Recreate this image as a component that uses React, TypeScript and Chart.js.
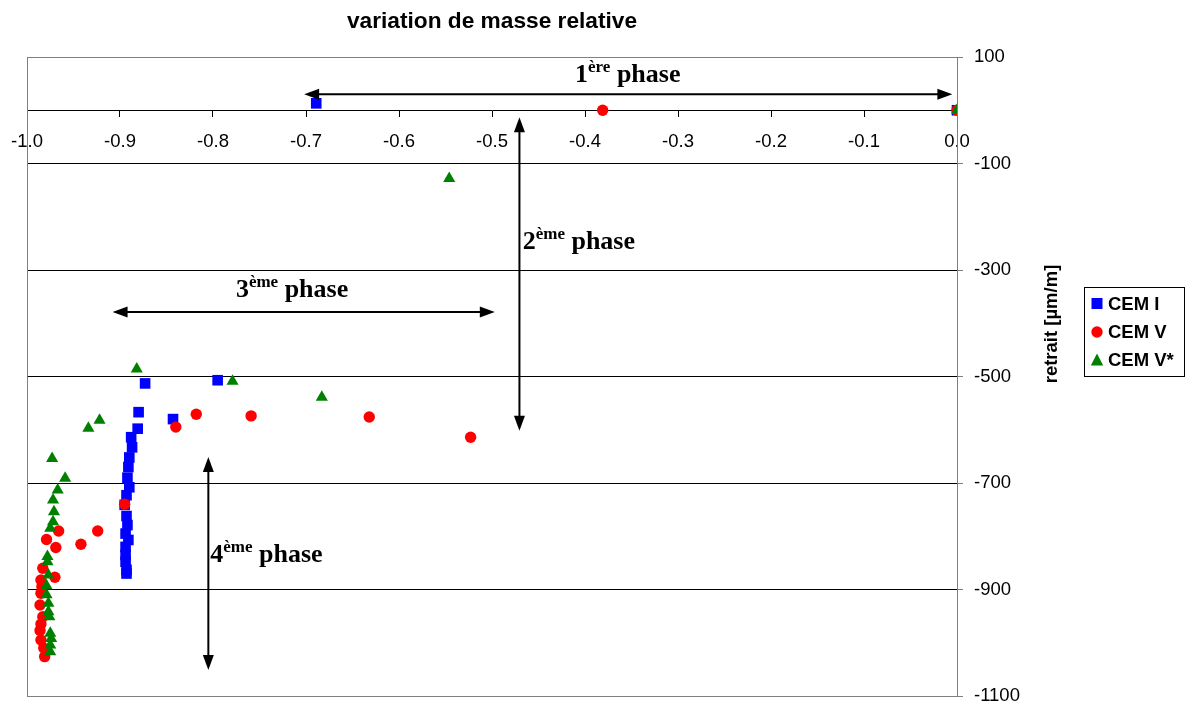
import React, { useEffect, useRef } from "react";
import { Chart, registerables } from "chart.js";

Chart.register(...registerables);

// ---- data ----
const seriesNames = ["CEM I", "CEM V", "CEM V*"];
const seriesColors = ["#0000FF", "#FF0000", "#008000"];

const cemIX = [0, -0.689, -0.795, -0.873, -0.843, -0.88, -0.881, -0.888, -0.887, -0.89, -0.891, -0.892, -0.89, -0.893, -0.895, -0.893, -0.892, -0.894, -0.891, -0.894, -0.894, -0.894, -0.893, -0.893];
const cemIY = [0, 13, -507, -513, -580, -567, -598, -614, -633, -652, -670, -690, -708, -723, -741, -762, -779, -795, -807, -820, -835, -848, -863, -870];

const cemVX = [0, -0.381, -0.523, -0.632, -0.759, -0.818, -0.84, -0.895, -0.924, -0.942, -0.966, -0.979, -0.969, -0.97, -0.983, -0.985, -0.984, -0.985, -0.986, -0.983, -0.985, -0.986, -0.985, -0.982, -0.981];
const cemVY = [0, 0, -614, -576, -574, -571, -595, -740, -790, -815, -790, -806, -821, -877, -860, -882, -895, -907, -929, -951, -965, -977, -995, -1010, -1026];

const cemVsX = [0, -0.546, -0.683, -0.779, -0.882, -0.922, -0.934, -0.973, -0.959, -0.967, -0.972, -0.971, -0.972, -0.975, -0.978, -0.978, -0.977, -0.979, -0.979, -0.977, -0.977, -0.976, -0.975, -0.974, -0.975, -0.975];
const cemVsY = [0, -128, -539, -509, -486, -582, -597, -654, -691, -713, -732, -754, -773, -785, -838, -848, -873, -893, -910, -926, -942, -951, -982, -992, -1004, -1017];

const xMin = -1.0;
const xMax = 0.0;
const xStep = 0.1;
const yMin = -1100;
const yMax = 100;
const yStep = 200;

const chartTitle = "variation de masse relative";
const yAxisTitle = "retrait [µm/m]";

// phase annotations (data units)
const phaseArrows = [
  { x1: -0.702, y1: 30, x2: -0.005, y2: 30 },
  { x1: -0.4705, y1: -13, x2: -0.4705, y2: -602 },
  { x1: -0.908, y1: -379, x2: -0.497, y2: -379 },
  { x1: -0.805, y1: -651, x2: -0.805, y2: -1051 },
];
const phaseNums = ["1", "2", "3", "4"];
const phaseSups = ["ère", "ème", "ème", "ème"];
const phaseTextX = [-0.354, -0.467, -0.715, -0.803];
const phaseTextY = [53, -261, -351, -848];
const phaseAlign = ["center", "left", "center", "left"];

const SANS = "'Liberation Sans', Arial, sans-serif";
const SERIF = "'Liberation Serif', 'Times New Roman', serif";

function zip(xs: number[], ys: number[]) {
  return xs.map((x, i) => ({ x, y: ys[i] }));
}

function drawArrowHead(ctx: CanvasRenderingContext2D, fx: number, fy: number, tx: number, ty: number) {
  const ang = Math.atan2(ty - fy, tx - fx);
  const len = 15;
  const hw = 5.5;
  ctx.beginPath();
  ctx.moveTo(tx, ty);
  ctx.lineTo(tx - len * Math.cos(ang) + hw * Math.sin(ang), ty - len * Math.sin(ang) - hw * Math.cos(ang));
  ctx.lineTo(tx - len * Math.cos(ang) - hw * Math.sin(ang), ty - len * Math.sin(ang) + hw * Math.cos(ang));
  ctx.closePath();
  ctx.fill();
}

const overlayPlugin = {
  id: "overlay",
  afterDatasetsDraw(chart: any) {
    const ctx: CanvasRenderingContext2D = chart.ctx;
    const xs = chart.scales.x;
    const ys = chart.scales.y;
    const area = chart.chartArea;
    ctx.save();

    // frame left border
    ctx.strokeStyle = "#808080";
    ctx.lineWidth = 1;
    ctx.beginPath();
    ctx.moveTo(Math.round(area.left) + 0.5, area.top);
    ctx.lineTo(Math.round(area.left) + 0.5, area.bottom);
    ctx.stroke();

    // arrows
    ctx.strokeStyle = "#000";
    ctx.fillStyle = "#000";
    ctx.lineWidth = 2;
    phaseArrows.forEach((a) => {
      const px1 = xs.getPixelForValue(a.x1);
      const py1 = ys.getPixelForValue(a.y1);
      const px2 = xs.getPixelForValue(a.x2);
      const py2 = ys.getPixelForValue(a.y2);
      const ang = Math.atan2(py2 - py1, px2 - px1);
      ctx.beginPath();
      ctx.moveTo(px1 + 10 * Math.cos(ang), py1 + 10 * Math.sin(ang));
      ctx.lineTo(px2 - 10 * Math.cos(ang), py2 - 10 * Math.sin(ang));
      ctx.stroke();
      drawArrowHead(ctx, px2, py2, px1, py1);
      drawArrowHead(ctx, px1, py1, px2, py2);
    });

    // phase labels
    const mainFont = `bold 26px ${SERIF}`;
    const supFont = `bold 17px ${SERIF}`;
    ctx.textBaseline = "alphabetic";
    ctx.textAlign = "left";
    phaseNums.forEach((num, i) => {
      const sup = phaseSups[i];
      const rest = " phase";
      ctx.font = mainFont;
      const w1 = ctx.measureText(num).width;
      const w3 = ctx.measureText(rest).width;
      ctx.font = supFont;
      const w2 = ctx.measureText(sup).width;
      const total = w1 + w2 + w3;
      const px = xs.getPixelForValue(phaseTextX[i]);
      const py = ys.getPixelForValue(phaseTextY[i]);
      const x0 = phaseAlign[i] === "center" ? px - total / 2 : px;
      ctx.font = mainFont;
      ctx.fillText(num, x0, py);
      ctx.font = supFont;
      ctx.fillText(sup, x0 + w1, py - 10);
      ctx.font = mainFont;
      ctx.fillText(rest, x0 + w1 + w2, py);
    });

    // title
    ctx.font = `bold 22.7px ${SANS}`;
    ctx.textAlign = "center";
    ctx.textBaseline = "alphabetic";
    ctx.fillText(chartTitle, (area.left + area.right) / 2, 28);

    // y axis title
    ctx.save();
    ctx.translate(1052, 324);
    ctx.rotate(-Math.PI / 2);
    ctx.font = `bold 18.5px ${SANS}`;
    ctx.textAlign = "center";
    ctx.textBaseline = "middle";
    ctx.fillText(yAxisTitle, 0, 0);
    ctx.restore();

    // legend
    ctx.strokeStyle = "#000";
    ctx.lineWidth = 1;
    ctx.strokeRect(1084.5, 287.5, 100, 89);
    const rowY = [303.5, 332, 360];
    const symX = 1097;
    ctx.font = `bold 18.5px ${SANS}`;
    ctx.textAlign = "left";
    ctx.textBaseline = "middle";
    seriesNames.forEach((name, i) => {
      const y = rowY[i];
      ctx.fillStyle = seriesColors[i];
      if (i === 0) {
        ctx.fillRect(symX - 5.5, y - 5.5, 11, 11);
      } else if (i === 1) {
        ctx.beginPath();
        ctx.arc(symX, y, 5.7, 0, Math.PI * 2);
        ctx.fill();
      } else {
        ctx.beginPath();
        ctx.moveTo(symX, y - 6.5);
        ctx.lineTo(symX + 6.2, y + 5.5);
        ctx.lineTo(symX - 6.2, y + 5.5);
        ctx.closePath();
        ctx.fill();
      }
      ctx.fillStyle = "#000";
      ctx.fillText(name, 1108, y + 1);
    });

    ctx.restore();
  },
};

export default function App() {
  const canvasRef = useRef<HTMLCanvasElement | null>(null);

  useEffect(() => {
    const canvas = canvasRef.current;
    if (!canvas) return;
    const tickFont = { family: SANS, size: 18.5 };
    const chart = new Chart(canvas, {
      type: "scatter",
      data: {
        datasets: [
          {
            label: seriesNames[0],
            data: zip(cemIX, cemIY),
            pointStyle: "rect",
            pointRadius: 7.5,
            backgroundColor: seriesColors[0],
            borderColor: seriesColors[0],
            borderWidth: 0,
            order: 3,
          },
          {
            label: seriesNames[1],
            data: zip(cemVX, cemVY),
            pointStyle: "circle",
            pointRadius: 5.7,
            backgroundColor: seriesColors[1],
            borderColor: seriesColors[1],
            borderWidth: 0,
            order: 2,
          },
          {
            label: seriesNames[2],
            data: zip(cemVsX, cemVsY),
            pointStyle: "triangle",
            pointRadius: 7,
            backgroundColor: seriesColors[2],
            borderColor: seriesColors[2],
            borderWidth: 0,
            order: 1,
          },
        ],
      },
      options: {
        responsive: false,
        animation: false,
        layout: { padding: { left: 27, top: 57, bottom: 8, right: 0 } },
        plugins: {
          legend: { display: false },
          title: { display: false },
          tooltip: { enabled: false },
        },
        scales: {
          x: {
            type: "linear",
            min: xMin,
            max: xMax,
            position: { y: 0 } as any,
            ticks: {
              stepSize: xStep,
              autoSkip: false,
              maxRotation: 0,
              font: tickFont,
              color: "#000",
              padding: 15,
              callback: (v: any) => Number(v).toFixed(1),
            },
            grid: { drawOnChartArea: false, tickLength: 6, tickColor: "#000" },
            border: { color: "#000", width: 1 },
            afterFit: (s: any) => {
              s.paddingLeft = 0;
              s.paddingRight = 0;
              s.paddingTop = 0;
              s.paddingBottom = 0;
            },
          },
          y: {
            type: "linear",
            min: yMin,
            max: yMax,
            position: "right",
            ticks: {
              stepSize: yStep,
              font: tickFont,
              color: "#000",
              padding: 11,
              callback: (v: any) => String(Math.round(Number(v))),
            },
            grid: {
              color: (c: any) => (c.tick && (c.tick.value === yMax || c.tick.value === yMin) ? "#808080" : "#000"),
              tickLength: 6,
              tickColor: "#808080",
            },
            border: { color: "#808080", width: 1 },
            afterFit: (s: any) => {
              s.width = 230;
              s.paddingLeft = 0;
              s.paddingRight = 0;
              s.paddingTop = 0;
              s.paddingBottom = 0;
            },
          },
        },
      },
      plugins: [overlayPlugin],
    });
    return () => chart.destroy();
  }, []);

  return (
    <div style={{ position: "fixed", left: 0, top: 0, width: 1187, height: 704, background: "#fff" }}>
      <canvas ref={canvasRef} width={1187} height={704} style={{ display: "block" }} />
    </div>
  );
}
